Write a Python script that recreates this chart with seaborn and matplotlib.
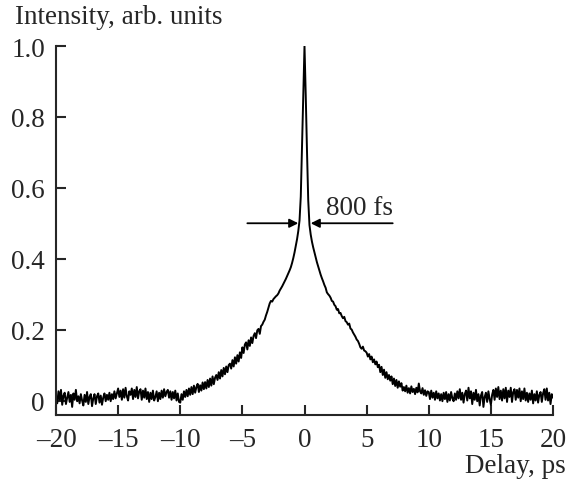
import numpy as np
import pandas as pd
import matplotlib
matplotlib.use("Agg")
import matplotlib.pyplot as plt
import seaborn as sns

# ---- data (one row per picosecond, 0.1 ps steps) ----
delay_ps = np.round(np.linspace(-20, 20, 401), 1)

left_rows = [
    [0.012, -0.008, 0.026, 0.002, 0.030, -0.012, 0.014, 0.022, -0.010, 0.008],  # -20
    [0.024, -0.004, 0.016, -0.018, 0.020, 0.002, 0.030, -0.002, 0.012, -0.008], # -19
    [0.018, 0.000, -0.014, 0.016, -0.004, 0.024, -0.010, 0.010, 0.018, -0.016], # -18
    [0.006, 0.018, -0.010, 0.012, 0.020, -0.006, 0.014, -0.012, 0.008, 0.020],  # -17
    [-0.002, 0.016, 0.002, 0.022, -0.002, 0.018, 0.004, 0.026, 0.006, 0.020],   # -16
    [0.034, 0.010, 0.028, 0.002, 0.032, 0.008, 0.036, 0.012, 0.000, 0.026],     # -15
    [0.016, 0.034, 0.004, 0.030, 0.010, 0.038, 0.006, 0.026, 0.032, 0.002],     # -14
    [0.028, 0.008, 0.034, 0.004, 0.024, -0.004, 0.022, 0.004, 0.028, 0.000],    # -13
    [0.010, 0.026, -0.002, 0.022, 0.004, 0.028, 0.008, 0.032, 0.012, 0.024],    # -12
    [0.030, 0.008, 0.026, 0.002, 0.024, 0.006, 0.028, 0.000, 0.020, -0.004],    # -11
    [-0.006, 0.018, 0.002, 0.026, 0.010, 0.030, 0.012, 0.034, 0.016, 0.038],    # -10
    [0.018, 0.042, 0.022, 0.038, 0.047, 0.024, 0.043, 0.028, 0.051, 0.032],     # -9
    [0.052, 0.034, 0.058, 0.038, 0.062, 0.042, 0.068, 0.046, 0.064, 0.072],     # -8
    [0.058, 0.080, 0.062, 0.086, 0.068, 0.092, 0.074, 0.096, 0.080, 0.100],     # -7
    [0.104, 0.090, 0.114, 0.096, 0.122, 0.104, 0.128, 0.110, 0.136, 0.120],     # -6
    [0.150, 0.134, 0.158, 0.164, 0.144, 0.170, 0.154, 0.178, 0.162, 0.182],     # -5
    [0.190, 0.176, 0.198, 0.202, 0.188, 0.210, 0.214, 0.222, 0.228, 0.240],     # -4
    [0.250, 0.262, 0.274, 0.281, 0.279, 0.286, 0.290, 0.294, 0.297, 0.302],     # -3
    [0.310, 0.316, 0.322, 0.329, 0.336, 0.343, 0.351, 0.359, 0.367, 0.376],     # -2
    [0.388, 0.402, 0.418, 0.436, 0.455, 0.478, 0.508, 0.575, 0.715, 0.865],     # -1
]
peak = [1.000]                                                                   # 0
right_head = [0.860, 0.705, 0.565, 0.495, 0.468, 0.448, 0.432, 0.418, 0.404]    # 0.1..0.9
right_rows = [
    [0.390, 0.378, 0.365, 0.355, 0.345, 0.336, 0.326, 0.318, 0.305, 0.300],     # 1
    [0.296, 0.290, 0.281, 0.279, 0.270, 0.266, 0.256, 0.258, 0.246, 0.247],     # 2
    [0.238, 0.232, 0.236, 0.224, 0.221, 0.214, 0.217, 0.203, 0.200, 0.192],     # 3
    [0.186, 0.180, 0.172, 0.168, 0.160, 0.150, 0.146, 0.152, 0.141, 0.139],     # 4
    [0.135, 0.124, 0.131, 0.116, 0.124, 0.108, 0.116, 0.102, 0.110, 0.094],     # 5
    [0.101, 0.080, 0.095, 0.072, 0.087, 0.064, 0.080, 0.060, 0.072, 0.056],     # 6
    [0.068, 0.046, 0.062, 0.041, 0.058, 0.036, 0.054, 0.039, 0.049, 0.028],     # 7
    [0.038, 0.026, 0.042, 0.022, 0.035, 0.020, 0.040, 0.024, 0.033, 0.018],     # 8
    [0.036, 0.023, 0.048, 0.026, 0.020, 0.035, 0.016, 0.029, 0.013, 0.026],     # 9
    [0.024, 0.004, 0.028, 0.008, 0.022, 0.002, 0.026, 0.006, 0.020, 0.000],     # 10
    [0.018, -0.002, 0.022, 0.004, 0.024, -0.004, 0.018, 0.000, 0.024, 0.006],   # 11
    [-0.002, 0.020, 0.002, 0.026, 0.006, 0.032, 0.002, 0.022, -0.006, 0.018],   # 12
    [0.028, 0.000, 0.036, 0.006, 0.026, -0.010, 0.022, 0.002, 0.030, -0.002],   # 13
    [0.018, -0.014, 0.014, 0.024, -0.018, 0.010, 0.022, -0.004, 0.026, 0.004],  # 14
    [-0.012, 0.016, 0.030, 0.002, 0.034, 0.010, 0.038, 0.004, 0.028, 0.000],    # 15
    [0.032, 0.006, 0.036, -0.004, 0.028, 0.010, 0.036, -0.004, 0.024, 0.032],   # 16
    [0.002, 0.030, 0.008, 0.034, -0.002, 0.026, 0.004, 0.034, 0.000, 0.022],    # 17
    [-0.004, 0.020, 0.002, 0.028, -0.008, 0.018, 0.000, 0.026, -0.006, 0.016],  # 18
    [0.024, -0.004, 0.020, 0.032, 0.002, 0.034, 0.000, 0.022, -0.010, 0.018],   # 19
]
right_tail = [0.008]                                                             # 20

intensity = np.concatenate([np.ravel(left_rows), peak, right_head,
                            np.ravel(right_rows), right_tail])
assert len(intensity) == len(delay_ps)

x_ticks = [-20, -15, -10, -5, 0, 5, 10, 15, 20]
x_ticklabels = ["\u201320", "\u201315", "\u201310", "\u20135", "0", "5", "10", "15", "20"]
y_ticks = [0, 0.2, 0.4, 0.6, 0.8, 1.0]
y_ticklabels = ["0", "0.2", "0.4", "0.6", "0.8", "1.0"]

fwhm_label = "800 fs"
fwhm_level = 0.50
fwhm_half = 0.5

# ---- plot ----
sns.set_style("ticks")
plt.rcParams["font.family"] = ["Liberation Serif", "DejaVu Serif"]

FS = 19.5
fig = plt.figure(figsize=(5.75, 4.85), dpi=100)
ax = fig.add_axes([56 / 575, 1 - 415.7 / 485, (553 - 56) / 575, (415.7 - 47) / 485])

df = pd.DataFrame({"delay": delay_ps, "intensity": intensity})
sns.lineplot(data=df, x="delay", y="intensity", ax=ax, color="black",
             linewidth=1.4, estimator=None)

ax.set_xlim(-20, 20)
ax.set_ylim(-0.040, 1.0)
ax.set_xticks(x_ticks)
ax.set_xticklabels(x_ticklabels)
ax.set_yticks(y_ticks)
ax.set_yticklabels(y_ticklabels)
ax.set_xlabel("")
ax.set_ylabel("")
sns.despine(ax=ax)
for sp in ("left", "bottom"):
    ax.spines[sp].set_linewidth(1.5)
ax.tick_params(direction="in", length=7, width=1.5, labelsize=FS)
ax.tick_params(axis="x", pad=9)
ax.tick_params(axis="y", pad=8)

# FWHM arrows
arrow_kw = dict(arrowstyle="-|>", color="black", lw=1.3, mutation_scale=13,
                shrinkA=0, shrinkB=0)
ax.annotate("", xy=(-fwhm_half, fwhm_level), xytext=(-4.6, fwhm_level),
            arrowprops=arrow_kw)
ax.annotate("", xy=(fwhm_half, fwhm_level), xytext=(7.1, fwhm_level),
            arrowprops=arrow_kw)
ax.text(1.75, 0.508, fwhm_label, ha="left", va="bottom", fontsize=FS)

fig.text(15 / 575, 1 - 17 / 485, "Intensity, arb. units", ha="left", va="center", fontsize=FS)
fig.text(566 / 575, 1 - 467 / 485, "Delay, ps", ha="right", va="center", fontsize=FS)

fig.savefig("out.png", dpi=100)
